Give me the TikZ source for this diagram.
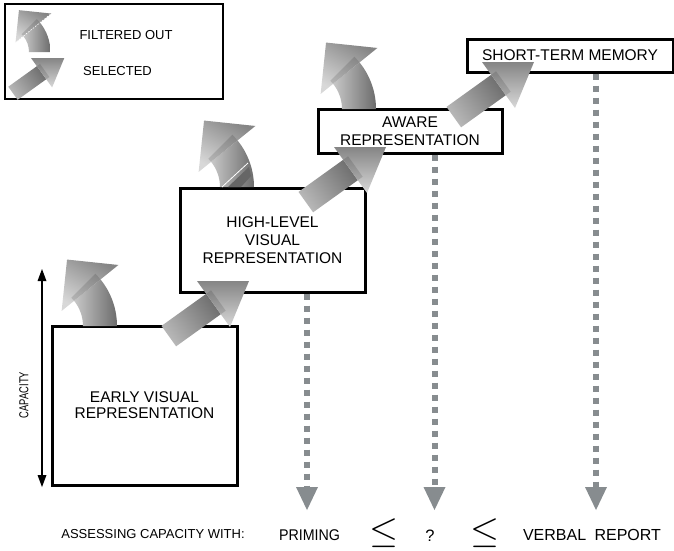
\documentclass[tikz,border=0pt]{standalone}
\usepackage{graphicx}
\usepackage{fontspec}
\setmainfont{Liberation Sans}
\newfontfamily\capfont[FakeStretch=0.72]{Liberation Sans}
\newfontfamily\narrowfont[FakeStretch=0.92]{Liberation Sans}
\usetikzlibrary{arrows.meta,calc}
\definecolor{dotgray}{HTML}{878C8F}
\definecolor{shaftdark}{HTML}{6C6C6C}
\definecolor{shaftlight}{HTML}{C8C8C8}
\definecolor{sshaftdark}{HTML}{707070}
\definecolor{sshaftlight}{HTML}{B8B8B8}
\definecolor{headdark}{HTML}{858585}
\definecolor{headlight}{HTML}{D8D8D8}
\newcommand\crvarrow{%
  \path[left color=shaftlight, right color=shaftdark] (0,0) -- (34,0) arc[start angle=0,end angle=-39,radius=74] -- ($(-40,0)+(-39:40)$) arc[start angle=-39,end angle=0,radius=40] -- cycle;
  \path[top color=headdark, bottom color=headlight, shading angle=-30] ($(-40,0)+(-39:24)$) -- ($(-40,0)+(-39:97)$) -- ($(-40,0)+(-39:60.5)+(-129:36.5)$) -- cycle;
  \fill[black, opacity=.13] ($(-40,0)+(-39:40)$) arc[start angle=-39,end angle=-45,radius=40] -- ($(-40,0)+(-45:74)$) arc[start angle=-45,end angle=-39,radius=74] -- cycle;
}
\newcommand\strarrow{%
  \path[top color=sshaftdark, bottom color=sshaftlight, shading angle=-54] (9.2,12.8) -- (23.8,33.2) -- (-20.9,65.3) -- (-35.5,44.9) -- cycle;
  \path[top color=headdark, bottom color=headlight] (0,0) -- (52,0) -- (33,46) -- cycle;
  \fill[black, opacity=.13] (9.2,12.8) -- (23.8,33.2) -- (28.7,29.7) -- (14.1,9.3) -- cycle;
}
\tikzset{
  stage/.style={draw=black, line width=3pt, fill=white, inner sep=0pt, align=center,
    font=\fontsize{15.5}{18}\selectfont},
  legendbox/.style={draw=black, line width=1.2pt, inner sep=0pt},
  dotconn/.style={draw=dotgray, line width=6pt, dash pattern=on 6pt off 6pt,
    -{Triangle[length=23pt,width=22pt,line width=0pt]}},
  caparrow/.style={draw=black, line width=2pt,
    {Triangle[length=12pt,width=9pt,line width=0pt]}-{Triangle[length=12pt,width=9pt,line width=0pt]}},
  lbl/.style={inner sep=0pt, anchor=center},
}
\begin{document}
\begin{tikzpicture}[x=1pt,y=-1pt]
\fill[white] (0,0) rectangle (674,550);
\useasboundingbox (0,0) rectangle (674,550);

% legend
\node[legendbox, minimum width=218pt, minimum height=95pt] (legend) at (114,51.5) {};
\node[lbl, font=\fontsize{13}{15}\selectfont] (filt) at (126,35.3) {FILTERED OUT};
\node[lbl, font=\fontsize{13}{15}\selectfont] (sel) at (117.5,71.3) {SELECTED};
\begin{scope}[shift={(29,52)}, scale=0.63]
  \crvarrow
  \draw[white, line width=0.6pt, dash pattern=on 1.5pt off 1.5pt] ($(-40,0)+(-39:26)$) -- ($(-40,0)+(-39:95)$);
\end{scope}
\begin{scope}[shift={(31,58)}, scale=0.64]
  \strarrow
\end{scope}

% stages
\node[stage, minimum width=185pt, minimum height=159pt, font=\fontsize{15.5}{16}\selectfont] (early) at (144.5,405.5) {EARLY VISUAL\\REPRESENTATION};
\node[stage, minimum width=185pt, minimum height=104pt] (hl) at (272.5,240) {HIGH-LEVEL\\VISUAL\\REPRESENTATION};
\node[stage, minimum width=184pt, minimum height=44pt] (aware) at (410,131) {AWARE\\REPRESENTATION};
\node[stage, minimum width=206pt, minimum height=33pt] (stm) at (570,55.5) {SHORT-TERM MEMORY};

% capacity axis
\coordinate (capT) at (42,269);
\coordinate (capB) at (42,487);
\draw[caparrow] (capT) -- (capB);
\node[lbl, rotate=90, font=\capfont\fontsize{13}{15}\selectfont] (cap) at (24,395) {CAPACITY};

% filtered-out (curved) arrows
\foreach \ax/\ay in {83/326, 220/187, 342/109} {
  \begin{scope}[shift={(\ax,\ay)}]
    \crvarrow
  \end{scope}
}
% artefact on second curved arrow
\fill[black!60] (228,187) -- (249,167) -- (251,176) -- (241,187) -- cycle;
\draw[white, line width=0.8pt] (222,187) -- (248,163);

% selected (straight) arrows
\foreach \ax/\ay in {197/281, 334/147, 482/62} {
  \begin{scope}[shift={(\ax,\ay)}]
    \strarrow
  \end{scope}
}

% assessment row
\node[lbl, font=\fontsize{13}{15}\selectfont] (assess) at (153,534) {ASSESSING CAPACITY WITH:};
\node[lbl, font=\narrowfont\fontsize{15.5}{17}\selectfont] (prim) at (309.5,535) {PRIMING};
\node[lbl, font=\fontsize{24.88}{26}\selectfont] (le1) at (384,533.5) {\scalebox{1.5}{$\leq$}};
\node[lbl, font=\fontsize{16.5}{18}\selectfont] (qm) at (430,536) {?};
\node[lbl, font=\fontsize{24.88}{26}\selectfont] (le2) at (485,533.5) {\scalebox{1.5}{$\leq$}};
\node[lbl, font=\fontsize{16}{18}\selectfont] (verb) at (592,535) {VERBAL\hspace{4pt} REPORT};

% dotted measurement connectors
\coordinate (tipP) at (307,510);
\coordinate (tipQ) at (434.5,510);
\coordinate (tipV) at (596,510);
\draw[dotconn] (hl.south -| tipP) -- (tipP);
\draw[dotconn] (aware.south -| tipQ) -- (tipQ);
\draw[dotconn] (stm.south -| tipV) -- (tipV);
\end{tikzpicture}
\end{document}
